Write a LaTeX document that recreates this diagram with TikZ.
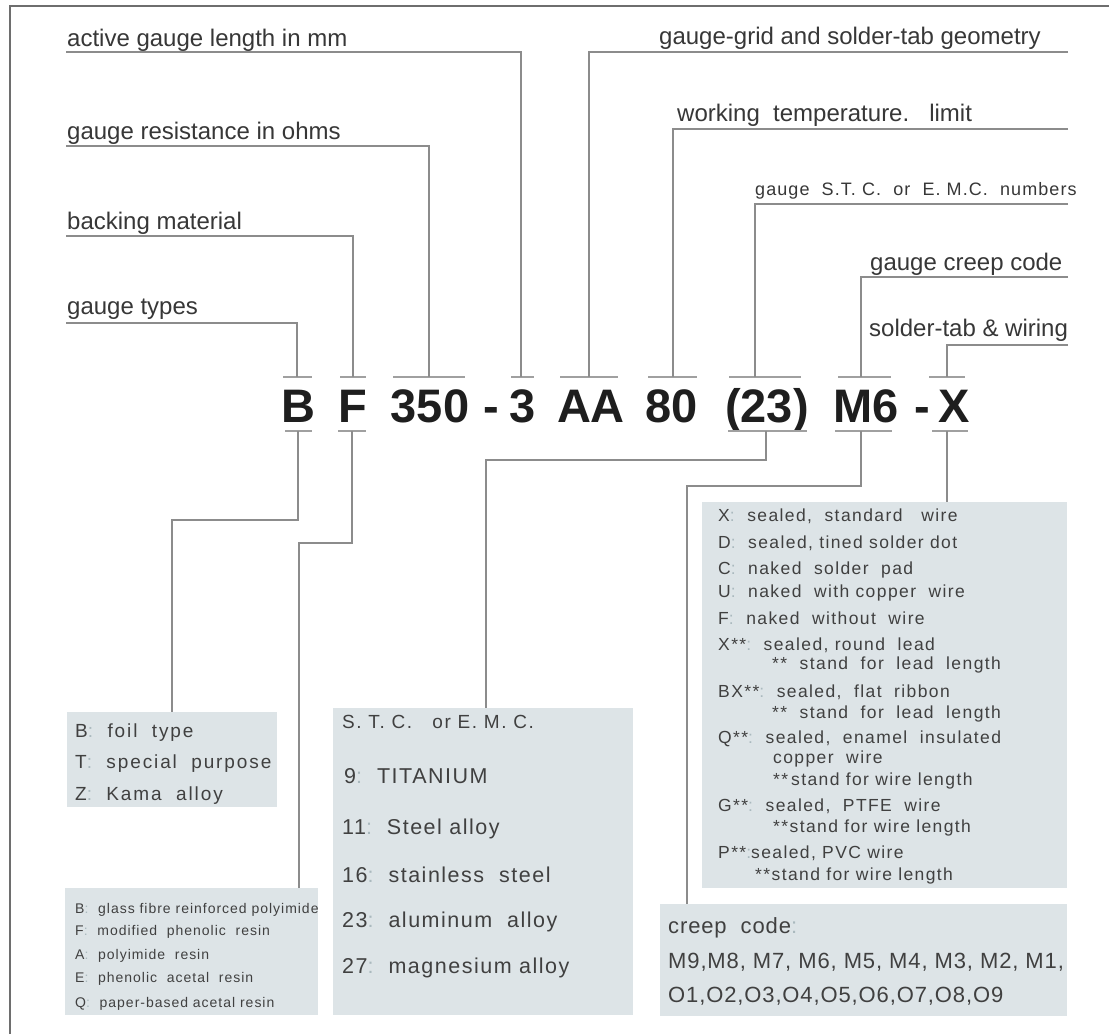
\documentclass[tikz,border=0pt]{standalone}
\usepackage{fontspec}
\setmainfont{Liberation Sans}
\newfontfamily\boxfont{Liberation Sans}
\definecolor{boxc}{RGB}{221,228,231}
\definecolor{linec}{RGB}{140,140,140}
\definecolor{tickc}{RGB}{160,160,160}
\definecolor{framec}{RGB}{110,110,110}
\definecolor{labelc}{RGB}{55,55,55}
\definecolor{btext}{RGB}{64,64,64}
\definecolor{codec}{RGB}{30,30,30}
\definecolor{colonc}{RGB}{170,185,190}
\newcommand{\cl}{{\color{colonc}:}}
\tikzset{
  conn/.style={draw=linec, line width=1.8pt},
  tickline/.style={draw=tickc, line width=1.4pt},
  lbl/.style={inner sep=0pt, anchor=base west, text=labelc, font=\fontsize{24}{28}\selectfont},
  codepart/.style={inner sep=0pt, anchor=base, text=codec, font=\fontsize{47}{50}\selectfont\bfseries},
  infobox/.style={fill=boxc, draw=none, anchor=north west, inner sep=0pt},
  btx/.style={inner sep=0pt, anchor=base west, text=btext},
}
\begin{document}
\begin{tikzpicture}[x=1pt,y=-1pt]
\useasboundingbox (0,0) rectangle (1109,1034);
\fill[white] (0,0) rectangle (1109,1034);
% frame
\draw[framec, line width=1.3pt] (10,1034) -- (10,6) -- (1109,6);

% ---------- label texts ----------
\node[lbl] (Lact) at (67,46) {active gauge length in mm};
\node[lbl] (Lres) at (67,139) {gauge resistance in ohms};
\node[lbl] (Lback) at (67,229) {backing material};
\node[lbl] (Ltype) at (67,314) {gauge types};
\node[lbl] (Lgrid) at (659,44) {gauge-grid and solder-tab geometry};
\node[lbl] (Lwork) at (677,121) {working\ \ temperature.\ \ \ limit};
\node[lbl, font=\fontsize{18}{22}\selectfont\addfontfeature{LetterSpace=6}] (Lstc) at (755,195) {gauge\ \ S.T.\ C.\ \ or\ \ E.\ M.C.\ \ numbers};
\node[lbl] (Lcreep) at (870,270) {gauge creep code};
\node[lbl] (Lwire) at (869,336) {solder-tab \& wiring};

% ---------- code ----------
\node[codepart] (cB) at (298,422) {B};
\node[codepart] (cF) at (353,422) {F};
\node[codepart] (c350) at (430,422) {350};
\node[codepart] (cd1) at (491,422) {-};
\node[codepart] (c3) at (523,422) {3};
\node[codepart] (cAA) at (591,422) {AA};
\node[codepart] (c80) at (672,422) {80};
\node[codepart] (c23) at (767,422) {(23)};
\node[codepart] (cM6) at (866,422) {M6};
\node[codepart] (cd2) at (922,422) {-};
\node[codepart] (cX) at (954,422) {X};

% top ticks
\foreach \a/\b in {283/312,340/366,393/465,511/534,560/618,648/697,729/801,838/891,929/965}
  \draw[tickline] (\a,377) -- (\b,377);
% bottom ticks
\foreach \a/\b in {285/312,338/366,728/807,835/892,932/968}
  \draw[tickline] (\a,431) -- (\b,431);

% anchor coordinates on the ticks
\coordinate (tB) at (297,377);   \coordinate (bB) at (298,431);
\coordinate (tF) at (353,377);   \coordinate (bF) at (352,431);
\coordinate (t350) at (429,377);
\coordinate (t3) at (521,377);
\coordinate (tAA) at (589,377);
\coordinate (t80) at (673,377);
\coordinate (t23) at (755,377);  \coordinate (b23) at (766,431);
\coordinate (tM6) at (861,377);  \coordinate (bM6) at (861,431);
\coordinate (tX) at (947,377);   \coordinate (bX) at (947,431);

% underline start coordinates
\coordinate (uact) at (66,52);
\coordinate (ures) at (66,146);
\coordinate (uback) at (66,236);
\coordinate (utype) at (66,323);
\coordinate (ugrid) at (1068,52);
\coordinate (uwork) at (1068,129);
\coordinate (ustc) at (1068,204);
\coordinate (ucreep) at (1068,277);
\coordinate (uwire) at (1068,345);

\draw[conn] (uact) -| (t3);
\draw[conn] (ures) -| (t350);
\draw[conn] (uback) -| (tF);
\draw[conn] (utype) -| (tB);
\draw[conn] (ugrid) -| (tAA);
\draw[conn] (uwork) -| (t80);
\draw[conn] (ustc) -| (t23);
\draw[conn] (ucreep) -| (tM6);
\draw[conn] (uwire) -| (tX);

% ---------- boxes ----------
\node[infobox, minimum width=210pt, minimum height=95pt] (foil) at (67,712) {};
\node[infobox, minimum width=253pt, minimum height=127pt] (mat) at (65,888) {};
\node[infobox, minimum width=300pt, minimum height=307pt] (stc) at (333,708) {};
\node[infobox, minimum width=365pt, minimum height=386pt] (wire) at (702,502) {};
\node[infobox, minimum width=407pt, minimum height=112pt] (creep) at (660,904) {};

% bottom connectors
\coordinate (jB) at (172,520);
\coordinate (jF) at (299,543);
\coordinate (j23) at (486,460);
\coordinate (jM6) at (687,486);
\draw[conn] (bB) |- (jB) -- (jB |- foil.north);
\draw[conn] (bF) |- (jF) -- (jF |- mat.north);
\draw[conn] (b23) |- (j23) -- (j23 |- stc.north);
\draw[conn] (bM6) |- (jM6) -- (jM6 |- creep.north);
\draw[conn] (bX) -- (bX |- wire.north);

% foil box text
\begin{scope}[every node/.style={btx, font=\boxfont\fontsize{19}{23}\selectfont\addfontfeature{LetterSpace=10}}]
\node (f1) at (75,737) {B\cl\ \ foil\ \ type};
\node (f2) at (75,768) {T\cl\ \ special\ \ purpose};
\node (f3) at (75,800) {Z\cl\ \ Kama\ \ alloy};
\end{scope}

% material box text
\begin{scope}[every node/.style={btx, font=\boxfont\fontsize{14}{17}\selectfont\addfontfeature{LetterSpace=7}}]
\node (m1) at (75,913) {B\cl\ \ glass fibre reinforced polyimide};
\node (m2) at (75,935) {F\cl\ \ modified\ \ phenolic\ \ resin};
\node (m3) at (75,959) {A\cl\ \ polyimide\ \ resin};
\node (m4) at (75,982) {E\cl\ \ phenolic\ \ acetal\ \ resin};
\node (m5) at (75,1007) {Q\cl\ \ paper-based acetal resin};
\end{scope}

% STC box text
\begin{scope}[every node/.style={btx, font=\boxfont\fontsize{21.5}{25}\selectfont\addfontfeature{LetterSpace=7}}]
\node[font=\boxfont\fontsize{19}{23}\selectfont\addfontfeature{LetterSpace=8}] (s0) at (342,728) {S. T. C.\ \ \ or\ E. M. C.};
\node (s1) at (344,783) {9\cl\ \ TITANIUM};
\node (s2) at (342,834) {11\cl\ \ Steel alloy};
\node (s3) at (342,882) {16\cl\ \ stainless\ \ steel};
\node (s4) at (342,927) {23\cl\ \ aluminum\ \ alloy};
\node (s5) at (342,973) {27\cl\ \ magnesium alloy};
\end{scope}

% wiring box text
\begin{scope}[every node/.style={btx, font=\boxfont\fontsize{17.5}{20}\selectfont\addfontfeature{LetterSpace=8}}]
\node (w1) at (718,521) {X\cl\ \ sealed,\ \ standard\ \ \ wire};
\node (w2) at (718,548) {D\cl\ \ sealed, tined solder dot};
\node (w3) at (718,574) {C\cl\ \ naked\ \ solder\ \ pad};
\node (w4) at (718,597) {U\cl\ \ naked\ \ with copper\ \ wire};
\node (w5) at (718,624) {F\cl\ \ naked\ \ without\ \ wire};
\node (w6) at (718,650) {X**\cl\ \ sealed, round\ \ lead};
\node (w7) at (772,669) {**\ \ stand\ \ for\ \ lead\ \ length};
\node (w8) at (718,697) {BX**\cl\ \ sealed,\ \ flat\ \ ribbon};
\node (w9) at (772,718) {**\ \ stand\ \ for\ \ lead\ \ length};
\node (w10) at (718,743) {Q**\cl\ \ sealed,\ \ enamel\ \ insulated};
\node (w11) at (773,763) {copper\ \ wire};
\node (w12) at (773,785) {**\,stand for wire length};
\node (w13) at (718,811) {G**\cl\ \ sealed,\ \ PTFE\ \ wire};
\node (w14) at (773,832) {**stand for wire length};
\node (w15) at (718,858) {P**\cl{}sealed, PVC wire};
\node (w16) at (755,880) {**stand for wire length};
\end{scope}

% creep box text
\begin{scope}[every node/.style={btx, font=\boxfont\fontsize{22}{26}\selectfont\addfontfeature{LetterSpace=4}}]
\node (k1) at (668,933) {creep\ \ code\cl};
\node (k2) at (668,968) {M9,M8, M7, M6, M5, M4, M3, M2, M1,};
\node (k3) at (668,1002) {O1,O2,O3,O4,O5,O6,O7,O8,O9};
\end{scope}
\end{tikzpicture}
\end{document}
